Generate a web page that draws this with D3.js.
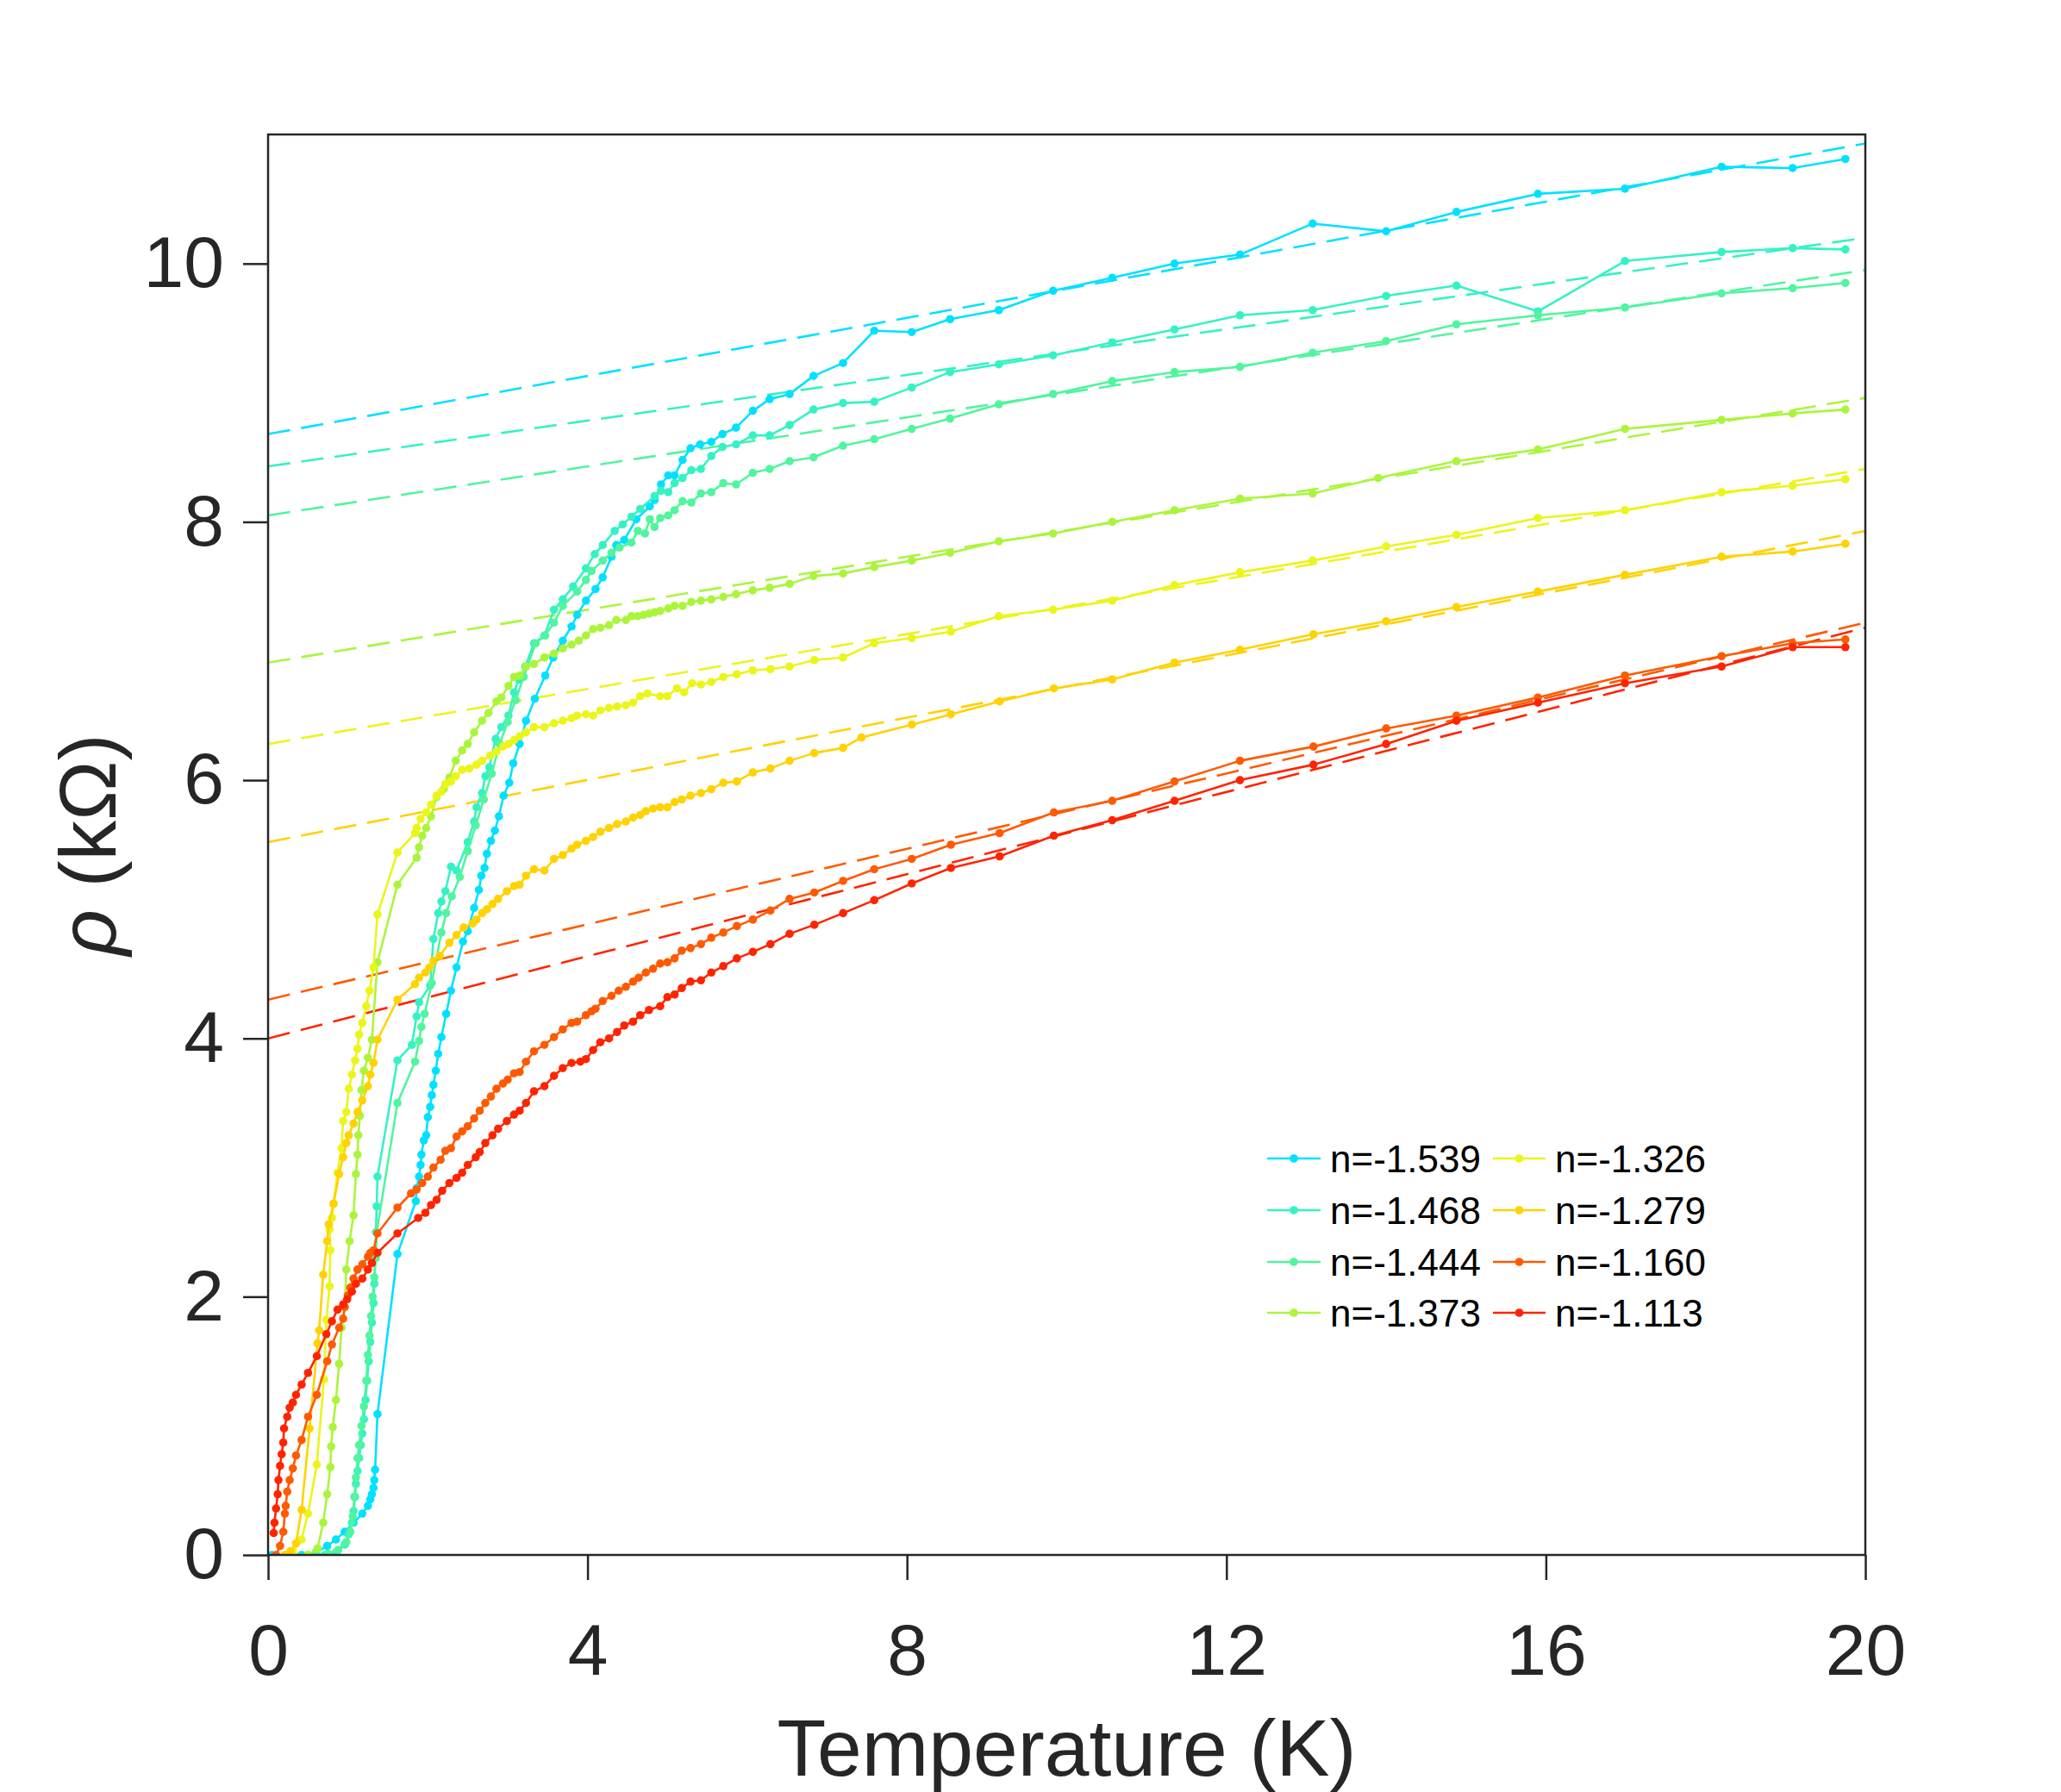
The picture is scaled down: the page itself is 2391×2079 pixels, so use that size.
<!DOCTYPE html>
<html>
<head>
<meta charset="utf-8">
<script src="https://cdn.jsdelivr.net/npm/d3@7"></script>
<style>
  body { margin: 0; background: #fff; }
  text { font-family: "Liberation Sans", Arial, sans-serif; }
</style>
</head>
<body>
<svg id="chart"></svg>
<script>
// carrier density labels, one per curve
var nLabels = ['n=-1.539', 'n=-1.468', 'n=-1.444', 'n=-1.373', 'n=-1.326', 'n=-1.279', 'n=-1.160', 'n=-1.113'];
var lineColors = ['#00e1ff', '#35f2c4', '#50f59e', '#aaf53c', '#ebf51a', '#ffd200', '#ff5a00', '#ff2400'];

// [T (K), rho (kOhm)]
var s1539 = [[0.05,0],[0.24,0],[0.42,0],[0.6,0.02],[0.74,0.07],[0.85,0.12],[0.96,0.18],[1.07,0.25],[1.18,0.32],[1.25,0.38],[1.28,0.43],[1.3,0.47],[1.32,0.52],[1.33,0.58],[1.34,0.66],[1.37,1.09],[1.62,2.33],[1.85,2.74],[1.86,2.84],[1.89,2.93],[1.91,3.02],[1.92,3.1],[1.95,3.21],[1.98,3.25],[2.0,3.39],[2.03,3.47],[2.05,3.56],[2.07,3.64],[2.1,3.75],[2.13,3.88],[2.17,4.01],[2.23,4.19],[2.29,4.37],[2.36,4.55],[2.44,4.75],[2.5,4.83],[2.58,5.01],[2.64,5.15],[2.67,5.26],[2.71,5.32],[2.74,5.43],[2.79,5.53],[2.84,5.61],[2.89,5.72],[2.95,5.88],[3.02,5.98],[3.07,6.13],[3.15,6.28],[3.23,6.46],[3.34,6.63],[3.47,6.81],[3.57,6.95],[3.69,7.08],[3.8,7.19],[3.87,7.28],[3.98,7.39],[4.1,7.48],[4.19,7.57],[4.3,7.73],[4.36,7.82],[4.46,7.86],[4.61,8.02],[4.78,8.12],[4.84,8.17],[4.92,8.29],[5.01,8.36],[5.09,8.36],[5.19,8.48],[5.29,8.57],[5.41,8.6],[5.55,8.62],[5.69,8.68],[5.86,8.73],[6.07,8.86],[6.28,8.95],[6.53,8.99],[6.83,9.13],[7.2,9.23],[7.59,9.48],[8.06,9.47],[8.54,9.57],[9.15,9.64],[9.83,9.79],[10.57,9.89],[11.35,10.0],[12.17,10.07],[13.08,10.31],[14.0,10.25],[14.88,10.4],[15.9,10.54],[16.99,10.58],[18.2,10.75],[19.09,10.74],[19.75,10.81]];
var s1468 = [[0.3,0],[0.5,0],[0.71,0],[0.85,0.02],[0.96,0.08],[1.01,0.16],[1.05,0.25],[1.07,0.34],[1.09,0.45],[1.1,0.55],[1.12,0.65],[1.14,0.75],[1.16,0.85],[1.18,0.94],[1.2,1.05],[1.22,1.2],[1.24,1.35],[1.26,1.5],[1.28,1.65],[1.3,1.8],[1.32,1.95],[1.33,2.1],[1.34,2.3],[1.35,2.5],[1.36,2.7],[1.37,2.93],[1.62,3.83],[1.8,3.95],[1.86,4.17],[1.89,4.28],[2.03,4.41],[2.07,4.77],[2.13,4.97],[2.17,5.06],[2.22,5.14],[2.29,5.33],[2.36,5.3],[2.5,5.52],[2.58,5.68],[2.61,5.79],[2.68,5.9],[2.72,6.03],[2.77,6.1],[2.85,6.32],[2.92,6.41],[3.01,6.5],[3.08,6.68],[3.14,6.78],[3.22,6.88],[3.33,7.06],[3.46,7.12],[3.58,7.32],[3.69,7.4],[3.82,7.5],[3.98,7.64],[4.09,7.75],[4.19,7.82],[4.34,7.93],[4.44,7.98],[4.55,8.04],[4.66,8.1],[4.84,8.2],[4.92,8.24],[5.01,8.23],[5.09,8.3],[5.19,8.34],[5.3,8.4],[5.42,8.41],[5.55,8.51],[5.69,8.58],[5.86,8.6],[6.07,8.67],[6.28,8.67],[6.53,8.75],[6.83,8.87],[7.2,8.92],[7.59,8.93],[8.06,9.04],[8.54,9.16],[9.15,9.22],[9.83,9.29],[10.57,9.39],[11.35,9.49],[12.17,9.6],[13.08,9.64],[14.0,9.75],[14.88,9.83],[15.9,9.63],[16.99,10.02],[18.2,10.09],[19.09,10.12],[19.75,10.11]];
var s1444 = [[0.3,0],[0.6,0],[0.75,0.01],[0.88,0.04],[0.98,0.1],[1.03,0.18],[1.06,0.3],[1.08,0.45],[1.1,0.6],[1.12,0.75],[1.14,0.85],[1.17,1.0],[1.2,1.15],[1.23,1.35],[1.25,1.55],[1.27,1.7],[1.29,1.85],[1.31,2.0],[1.33,2.15],[1.35,2.3],[1.36,2.5],[1.62,3.5],[1.84,3.82],[1.89,3.98],[1.92,4.09],[1.96,4.19],[2.05,4.43],[2.17,4.82],[2.23,4.97],[2.3,5.1],[2.4,5.25],[2.5,5.45],[2.6,5.65],[2.7,5.85],[2.8,6.05],[2.9,6.28],[3.0,6.45],[3.1,6.62],[3.2,6.8],[3.35,7.06],[3.47,7.12],[3.58,7.22],[3.69,7.35],[3.87,7.46],[3.98,7.55],[4.05,7.62],[4.19,7.7],[4.3,7.76],[4.4,7.8],[4.55,7.84],[4.63,7.93],[4.72,7.91],[4.78,8.02],[4.84,7.96],[4.91,8.03],[5.01,8.05],[5.09,8.09],[5.19,8.16],[5.3,8.15],[5.42,8.22],[5.55,8.23],[5.7,8.3],[5.86,8.29],[6.07,8.38],[6.28,8.41],[6.53,8.47],[6.83,8.5],[7.2,8.59],[7.59,8.64],[8.06,8.72],[8.54,8.8],[9.15,8.91],[9.83,8.99],[10.57,9.09],[11.35,9.16],[12.17,9.2],[13.08,9.31],[14.0,9.4],[14.88,9.53],[15.9,9.6],[16.99,9.66],[18.2,9.77],[19.09,9.81],[19.75,9.85]];
var s1373 = [[0.3,0],[0.5,0],[0.62,0.05],[0.69,0.25],[0.74,0.47],[0.78,0.68],[0.79,0.84],[0.81,0.99],[0.85,1.2],[0.89,1.48],[0.92,1.76],[0.96,1.92],[0.98,2.21],[1.02,2.43],[1.07,2.63],[1.1,2.95],[1.12,3.1],[1.13,3.25],[1.15,3.4],[1.17,3.6],[1.2,3.75],[1.25,3.85],[1.3,3.99],[1.37,4.59],[1.62,5.19],[1.86,5.4],[1.89,5.48],[1.93,5.57],[1.98,5.63],[2.04,5.72],[2.11,5.87],[2.2,5.93],[2.27,6.02],[2.35,6.15],[2.43,6.23],[2.5,6.28],[2.58,6.37],[2.68,6.46],[2.76,6.52],[2.86,6.61],[2.92,6.64],[3.01,6.73],[3.08,6.8],[3.15,6.81],[3.23,6.88],[3.33,6.9],[3.46,6.95],[3.58,6.98],[3.69,7.02],[3.8,7.05],[3.89,7.08],[3.98,7.12],[4.07,7.17],[4.16,7.18],[4.27,7.2],[4.36,7.24],[4.48,7.24],[4.55,7.27],[4.63,7.27],[4.7,7.28],[4.77,7.29],[4.84,7.3],[4.91,7.31],[5.01,7.33],[5.09,7.35],[5.19,7.35],[5.3,7.38],[5.42,7.39],[5.55,7.4],[5.7,7.42],[5.86,7.44],[6.07,7.47],[6.28,7.49],[6.53,7.52],[6.83,7.58],[7.2,7.6],[7.59,7.65],[8.06,7.7],[8.54,7.76],[9.15,7.85],[9.83,7.91],[10.57,8.0],[11.35,8.09],[12.17,8.18],[13.08,8.22],[13.9,8.34],[14.88,8.47],[15.9,8.56],[16.99,8.72],[18.2,8.79],[19.09,8.84],[19.75,8.87]];
var s1326 = [[0.24,0],[0.31,0.02],[0.42,0.12],[0.5,0.32],[0.61,0.7],[0.7,1.36],[0.73,1.82],[0.77,2.08],[0.78,2.36],[0.77,2.52],[0.8,2.61],[0.82,2.72],[0.87,2.96],[0.92,3.15],[0.94,3.36],[0.98,3.43],[1.01,3.61],[1.05,3.72],[1.09,3.83],[1.12,3.92],[1.14,4.03],[1.18,4.12],[1.23,4.25],[1.27,4.37],[1.32,4.55],[1.37,4.96],[1.62,5.44],[1.84,5.59],[1.86,5.63],[1.91,5.7],[1.98,5.75],[2.04,5.81],[2.11,5.88],[2.17,5.91],[2.22,5.97],[2.29,5.99],[2.35,6.03],[2.43,6.08],[2.52,6.09],[2.61,6.12],[2.68,6.15],[2.78,6.19],[2.86,6.22],[2.94,6.26],[3.01,6.28],[3.08,6.31],[3.15,6.34],[3.23,6.37],[3.33,6.41],[3.46,6.41],[3.58,6.44],[3.69,6.46],[3.8,6.48],[3.87,6.5],[3.98,6.51],[4.07,6.5],[4.16,6.54],[4.27,6.56],[4.37,6.57],[4.48,6.58],[4.57,6.6],[4.66,6.65],[4.75,6.67],[4.91,6.65],[5.0,6.65],[5.12,6.71],[5.21,6.68],[5.31,6.75],[5.42,6.74],[5.55,6.76],[5.7,6.8],[5.87,6.82],[6.07,6.85],[6.29,6.86],[6.53,6.88],[6.84,6.93],[7.2,6.95],[7.59,7.06],[8.06,7.1],[8.55,7.15],[9.15,7.27],[9.83,7.32],[10.57,7.39],[11.35,7.51],[12.17,7.61],[13.08,7.7],[14.0,7.81],[14.88,7.9],[15.9,8.03],[16.99,8.09],[18.2,8.23],[19.09,8.28],[19.75,8.33]];
var s1279 = [[0.21,0],[0.28,0.03],[0.35,0.09],[0.42,0.35],[0.52,0.98],[0.62,1.64],[0.64,1.74],[0.69,2.17],[0.74,2.43],[0.76,2.56],[0.82,2.72],[0.89,2.95],[0.94,3.08],[0.98,3.19],[1.01,3.25],[1.07,3.34],[1.12,3.43],[1.18,3.52],[1.25,3.63],[1.28,3.72],[1.32,3.81],[1.37,3.99],[1.62,4.3],[1.84,4.42],[1.89,4.47],[1.97,4.51],[2.02,4.55],[2.07,4.6],[2.15,4.64],[2.27,4.74],[2.36,4.8],[2.45,4.86],[2.56,4.89],[2.61,4.92],[2.68,4.97],[2.74,5.0],[2.81,5.04],[2.88,5.08],[2.99,5.14],[3.08,5.18],[3.15,5.19],[3.23,5.26],[3.33,5.31],[3.46,5.3],[3.58,5.39],[3.69,5.42],[3.8,5.47],[3.87,5.5],[3.98,5.53],[4.07,5.56],[4.16,5.6],[4.27,5.63],[4.37,5.66],[4.48,5.68],[4.57,5.71],[4.66,5.73],[4.73,5.76],[4.82,5.78],[4.91,5.79],[5.0,5.79],[5.09,5.83],[5.18,5.85],[5.29,5.88],[5.42,5.9],[5.55,5.93],[5.7,5.98],[5.87,5.99],[6.07,6.06],[6.29,6.09],[6.53,6.15],[6.84,6.21],[7.2,6.25],[7.43,6.33],[8.06,6.43],[8.55,6.51],[9.16,6.61],[9.84,6.71],[10.57,6.78],[11.35,6.91],[12.17,7.01],[13.09,7.13],[14.0,7.23],[14.88,7.34],[15.9,7.46],[16.99,7.59],[18.2,7.73],[19.09,7.77],[19.75,7.83]];
var s1160 = [[0.1,0],[0.15,0.07],[0.19,0.18],[0.21,0.32],[0.22,0.38],[0.24,0.49],[0.27,0.58],[0.31,0.67],[0.35,0.77],[0.42,0.89],[0.5,1.07],[0.61,1.24],[0.74,1.5],[0.8,1.63],[0.89,1.76],[0.94,1.83],[0.96,1.92],[1.0,2.01],[1.03,2.07],[1.07,2.14],[1.12,2.21],[1.18,2.25],[1.25,2.31],[1.28,2.34],[1.32,2.36],[1.37,2.49],[1.62,2.69],[1.79,2.8],[1.86,2.83],[1.93,2.88],[2.0,2.93],[2.07,3.0],[2.16,3.06],[2.22,3.13],[2.29,3.15],[2.36,3.24],[2.43,3.28],[2.5,3.32],[2.58,3.38],[2.65,3.44],[2.72,3.5],[2.79,3.55],[2.86,3.61],[2.94,3.65],[3.0,3.68],[3.08,3.73],[3.15,3.74],[3.23,3.82],[3.33,3.9],[3.46,3.95],[3.58,4.01],[3.69,4.07],[3.8,4.12],[3.87,4.13],[3.98,4.18],[4.05,4.21],[4.1,4.23],[4.19,4.29],[4.3,4.33],[4.39,4.37],[4.48,4.4],[4.57,4.44],[4.64,4.47],[4.73,4.51],[4.82,4.54],[4.91,4.58],[5.0,4.59],[5.09,4.62],[5.18,4.68],[5.29,4.7],[5.42,4.73],[5.55,4.78],[5.7,4.82],[5.87,4.87],[6.07,4.92],[6.29,4.99],[6.53,5.08],[6.84,5.13],[7.2,5.22],[7.59,5.31],[8.06,5.39],[8.55,5.5],[9.16,5.59],[9.84,5.75],[10.57,5.84],[11.35,5.99],[12.17,6.15],[13.09,6.26],[14.0,6.4],[14.88,6.5],[15.9,6.64],[16.99,6.81],[18.2,6.96],[19.09,7.06],[19.75,7.09]];
var s1113 = [[0.07,0.17],[0.08,0.25],[0.1,0.36],[0.12,0.47],[0.13,0.58],[0.15,0.69],[0.17,0.78],[0.19,0.87],[0.2,0.98],[0.24,1.07],[0.27,1.14],[0.31,1.18],[0.35,1.24],[0.42,1.32],[0.5,1.41],[0.61,1.54],[0.73,1.71],[0.8,1.81],[0.87,1.9],[0.94,1.94],[0.99,1.98],[1.05,2.04],[1.1,2.1],[1.18,2.14],[1.25,2.21],[1.3,2.26],[1.37,2.34],[1.62,2.49],[1.88,2.61],[1.97,2.65],[2.04,2.71],[2.11,2.75],[2.18,2.82],[2.27,2.88],[2.36,2.92],[2.43,2.96],[2.5,3.02],[2.6,3.08],[2.65,3.12],[2.72,3.19],[2.81,3.25],[2.88,3.3],[2.99,3.36],[3.08,3.41],[3.15,3.44],[3.23,3.5],[3.33,3.59],[3.46,3.63],[3.58,3.71],[3.69,3.77],[3.8,3.81],[3.91,3.82],[3.98,3.84],[4.07,3.91],[4.16,3.97],[4.27,4.0],[4.37,4.05],[4.46,4.1],[4.57,4.13],[4.66,4.18],[4.77,4.22],[4.91,4.25],[5.0,4.32],[5.09,4.34],[5.18,4.39],[5.29,4.44],[5.42,4.45],[5.55,4.51],[5.7,4.56],[5.87,4.62],[6.07,4.67],[6.29,4.73],[6.53,4.81],[6.84,4.88],[7.2,4.97],[7.59,5.07],[8.06,5.2],[8.55,5.32],[9.16,5.41],[9.84,5.57],[10.57,5.69],[11.35,5.84],[12.17,6.0],[13.09,6.12],[14.0,6.28],[14.88,6.46],[15.9,6.6],[16.99,6.75],[18.2,6.88],[19.09,7.03],[19.75,7.03]];

// linear fits: rho at T = 0 and T = 20
var fitT = [0, 20];
var fitAt0 = [8.68, 8.43, 8.05, 6.91, 6.28, 5.52, 4.30, 4.00];
var fitAt20 = [10.93, 10.20, 9.95, 8.96, 8.41, 7.93, 7.22, 7.18];

var xTicks = [0, 4, 8, 12, 16, 20];
var yTicks = [0, 2, 4, 6, 8, 10];

var allSeries = [s1539, s1468, s1444, s1373, s1326, s1279, s1160, s1113];

var W = 2391, H = 2079,
    plot = { left: 311, top: 156, right: 2164, bottom: 1804 },
    axisColor = '#262626';

var svg = d3.select('#chart').attr('width', W).attr('height', H);
svg.append('rect').attr('width', W).attr('height', H).attr('fill', '#fff');

var x = d3.scaleLinear().domain([0, 20]).range([plot.left, plot.right]);
var y = d3.scaleLinear().domain([0, 11]).range([plot.bottom, plot.top]);

svg.append('clipPath').attr('id', 'clip')
    .append('rect')
    .attr('x', plot.left).attr('y', plot.top)
    .attr('width', plot.right - plot.left).attr('height', plot.bottom - plot.top);

var g = svg.append('g').attr('clip-path', 'url(#clip)');

// dashed fit lines
fitAt0.forEach(function (r0, i) {
    g.append('line')
        .attr('x1', x(fitT[0])).attr('y1', y(r0))
        .attr('x2', x(fitT[1])).attr('y2', y(fitAt20[i]))
        .attr('stroke', lineColors[i])
        .attr('stroke-width', 2.6)
        .attr('stroke-dasharray', '26,13');
});

var line = d3.line().x(function (d) { return x(d[0]); }).y(function (d) { return y(d[1]); });

allSeries.forEach(function (data, i) {
    var sg = g.append('g');
    sg.append('path')
        .datum(data)
        .attr('d', line)
        .attr('fill', 'none')
        .attr('stroke', lineColors[i])
        .attr('stroke-width', 2.6)
        .attr('stroke-linejoin', 'round');
    sg.selectAll('circle').data(data).enter().append('circle')
        .attr('cx', function (d) { return x(d[0]); })
        .attr('cy', function (d) { return y(d[1]); })
        .attr('r', 4.8)
        .attr('fill', lineColors[i]);
});

// axes
var xAxis = d3.axisBottom(x).tickValues(xTicks).tickSize(29).tickSizeOuter(0).tickPadding(50);
var yAxis = d3.axisLeft(y).tickValues(yTicks).tickSize(29).tickSizeOuter(0).tickPadding(22);

var gx = svg.append('g').attr('transform', 'translate(0,' + plot.bottom + ')').call(xAxis);
var gy = svg.append('g').attr('transform', 'translate(' + plot.left + ',0)').call(yAxis);

[gx, gy].forEach(function (ax) {
    ax.select('.domain').remove();
    ax.selectAll('line').attr('stroke', axisColor).attr('stroke-width', 2.5);
    ax.selectAll('text')
        .attr('fill', axisColor)
        .style('font-size', '84px')
        .style('font-family', '"Liberation Sans", Arial, sans-serif');
});

// box
svg.append('rect')
    .attr('x', plot.left).attr('y', plot.top)
    .attr('width', plot.right - plot.left).attr('height', plot.bottom - plot.top)
    .attr('fill', 'none')
    .attr('stroke', axisColor)
    .attr('stroke-width', 2.5);

// axis titles
svg.append('text')
    .attr('x', (plot.left + plot.right) / 2).attr('y', 2060)
    .attr('text-anchor', 'middle')
    .attr('fill', axisColor)
    .style('font-size', '93px')
    .text('Temperature (K)');

var yTitle = svg.append('text')
    .attr('transform', 'translate(134,' + (plot.top + plot.bottom) / 2 + ') rotate(-90)')
    .attr('text-anchor', 'middle')
    .attr('fill', axisColor)
    .style('font-size', '93px');
yTitle.append('tspan').style('font-style', 'italic').text('\u03c1');
yTitle.append('tspan').text(' (k\u03a9)');

// legend, two columns of four
var legendCols = [{ x0: 1470, x1: 1532, tx: 1543 }, { x0: 1732, x1: 1793, tx: 1804 }],
    legendRows = [1344, 1404, 1464, 1523];

nLabels.forEach(function (label, i) {
    var col = legendCols[Math.floor(i / 4)],
        ly = legendRows[i % 4],
        lg = svg.append('g');
    lg.append('line')
        .attr('x1', col.x0).attr('x2', col.x1)
        .attr('y1', ly).attr('y2', ly)
        .attr('stroke', lineColors[i]).attr('stroke-width', 2.6);
    lg.append('circle')
        .attr('cx', (col.x0 + col.x1) / 2).attr('cy', ly).attr('r', 4.8)
        .attr('fill', lineColors[i]);
    lg.append('text')
        .attr('x', col.tx).attr('y', ly + 16)
        .attr('fill', '#000')
        .style('font-size', '44px')
        .text(label);
});
</script>
</body>
</html>
